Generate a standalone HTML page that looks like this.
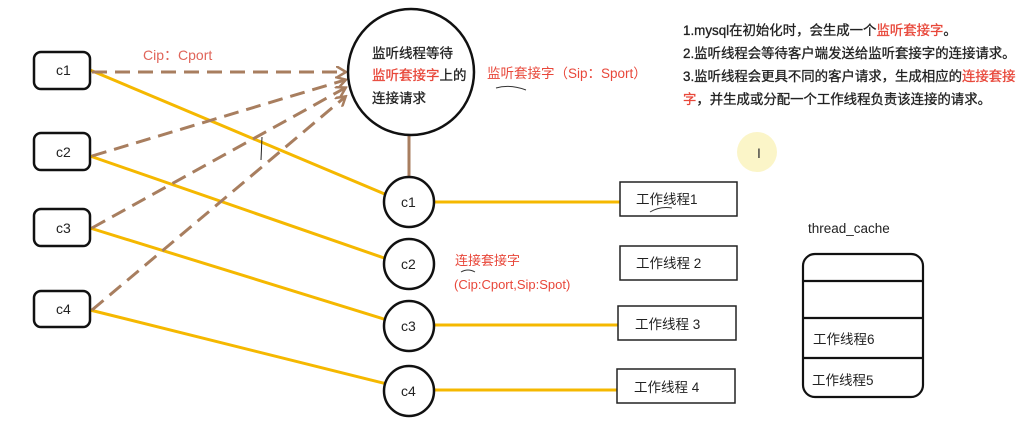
<!DOCTYPE html>
<html><head><meta charset="utf-8"><style>
body{margin:0;background:#fff;}
svg{display:block;font-family:"Liberation Sans","Noto Sans CJK SC",sans-serif;}
</style></head><body>
<svg width="1024" height="421" viewBox="0 0 1024 421">
<defs><marker id="a" markerWidth="12" markerHeight="12" refX="9" refY="6" orient="auto" markerUnits="userSpaceOnUse"><path d="M0,0 L10,6 L0,12" fill="none" stroke="#a87e5f" stroke-width="2.5"/></marker></defs>
<circle cx="757" cy="152" r="20" fill="#fbf5c8"/>
<text x="757" y="158" font-size="14" fill="#333">I</text>
<g stroke="#f5b800" stroke-width="3">
<line x1="90" y1="70" x2="387" y2="195"/>
<line x1="90" y1="156" x2="387" y2="259"/>
<line x1="90" y1="228" x2="387" y2="320"/>
<line x1="90" y1="310" x2="387" y2="384"/>
<line x1="435" y1="202" x2="620" y2="202"/>
<line x1="435" y1="325" x2="618" y2="325"/>
<line x1="435" y1="390" x2="617" y2="390"/>
</g>
<g stroke="#a87e5f" stroke-width="3" stroke-dasharray="15,8" fill="none">
<line x1="92" y1="72" x2="345" y2="72" marker-end="url(#a)"/>
<line x1="92" y1="156" x2="345" y2="80" marker-end="url(#a)"/>
<line x1="92" y1="228" x2="345" y2="88" marker-end="url(#a)"/>
<line x1="92" y1="310" x2="345" y2="97" marker-end="url(#a)"/>
</g>
<line x1="409" y1="134" x2="409" y2="177" stroke="#a87e5f" stroke-width="3"/>
<path d="M262 137 L261 160" stroke="#222" stroke-width="1"/>
<g fill="#fff" stroke="#111" stroke-width="2.5">
<rect x="34" y="52" width="56" height="37" rx="7"/>
<rect x="34" y="133" width="56" height="37" rx="7"/>
<rect x="34" y="209" width="56" height="37" rx="7"/>
<rect x="34" y="291" width="56" height="36" rx="7"/>
<circle cx="411" cy="72" r="63"/>
<circle cx="409" cy="202" r="25"/>
<circle cx="409" cy="264" r="25"/>
<circle cx="409" cy="326" r="25"/>
<circle cx="409" cy="391" r="25"/>
</g>
<g font-size="14" fill="#222">
<text x="56" y="75">c1</text><text x="56" y="157">c2</text><text x="56" y="233">c3</text><text x="56" y="314">c4</text>
<text x="401" y="207">c1</text><text x="401" y="269">c2</text><text x="401" y="331">c3</text><text x="401" y="396">c4</text>
</g>
<g font-size="13.5" fill="#222" stroke="#222" stroke-width="0.3">
<text x="372" y="58">监听线程等待</text>
<text x="372" y="80"><tspan fill="#e8473a" stroke="#e8473a">监听套接字</tspan>上的</text>
<text x="372" y="103">连接请求</text>
</g>
<text x="143" y="60" font-size="14" fill="#e0655a">Cip：Cport</text>
<text x="487" y="78" font-size="13.5" fill="#e8473a">监听套接字（Sip：Sport）</text>
<path d="M496 88 Q510 84 526 90" stroke="#333" fill="none"/>
<text x="455" y="265" font-size="13" fill="#e8473a">连接套接字</text>
<path d="M461 272 Q468 268 475 272" stroke="#333" fill="none"/>
<text x="454" y="289" font-size="13" fill="#e8473a">(Cip:Cport,Sip:Spot)</text>
<g fill="#fff" stroke="#222" stroke-width="1.5">
<rect x="620" y="182" width="117" height="34"/>
<rect x="620" y="246" width="117" height="34"/>
<rect x="618" y="306" width="118" height="34"/>
<rect x="617" y="369" width="118" height="34"/>
</g>
<g font-size="13.5" fill="#222">
<text x="636" y="204">工作线程1</text>
<text x="636" y="268">工作线程 2</text>
<text x="635" y="329">工作线程 3</text>
<text x="634" y="392">工作线程  4</text>
</g>
<path d="M650 212 Q660 206 672 208" stroke="#333" fill="none"/>
<text x="808" y="233" font-size="13.5" fill="#222">thread_cache</text>
<rect x="803" y="254" width="120" height="143" rx="12" fill="#fff" stroke="#111" stroke-width="2.2"/>
<g stroke="#111" stroke-width="2.2"><line x1="804" y1="281" x2="922" y2="281"/><line x1="804" y1="318" x2="922" y2="318"/><line x1="804" y1="358" x2="922" y2="358"/></g>
<text x="813" y="344" font-size="13.5" fill="#222">工作线程6</text>
<text x="812" y="385" font-size="13.5" fill="#222">工作线程5</text>
<g font-size="13.4" fill="#222" stroke="#222" stroke-width="0.3">
<text x="683" y="35">1.mysql在初始化时，会生成一个<tspan fill="#e8473a" stroke="#e8473a">监听套接字</tspan>。</text>
<text x="683" y="58">2.监听线程会等待客户端发送给监听套接字的连接请求。</text>
<text x="683" y="81">3.监听线程会更具不同的客户请求，生成相应的<tspan fill="#e8473a" stroke="#e8473a">连接套接</tspan></text>
<text x="683" y="104"><tspan fill="#e8473a" stroke="#e8473a">字</tspan>，并生成或分配一个工作线程负责该连接的请求。</text>
</g>
</svg>
</body></html>
